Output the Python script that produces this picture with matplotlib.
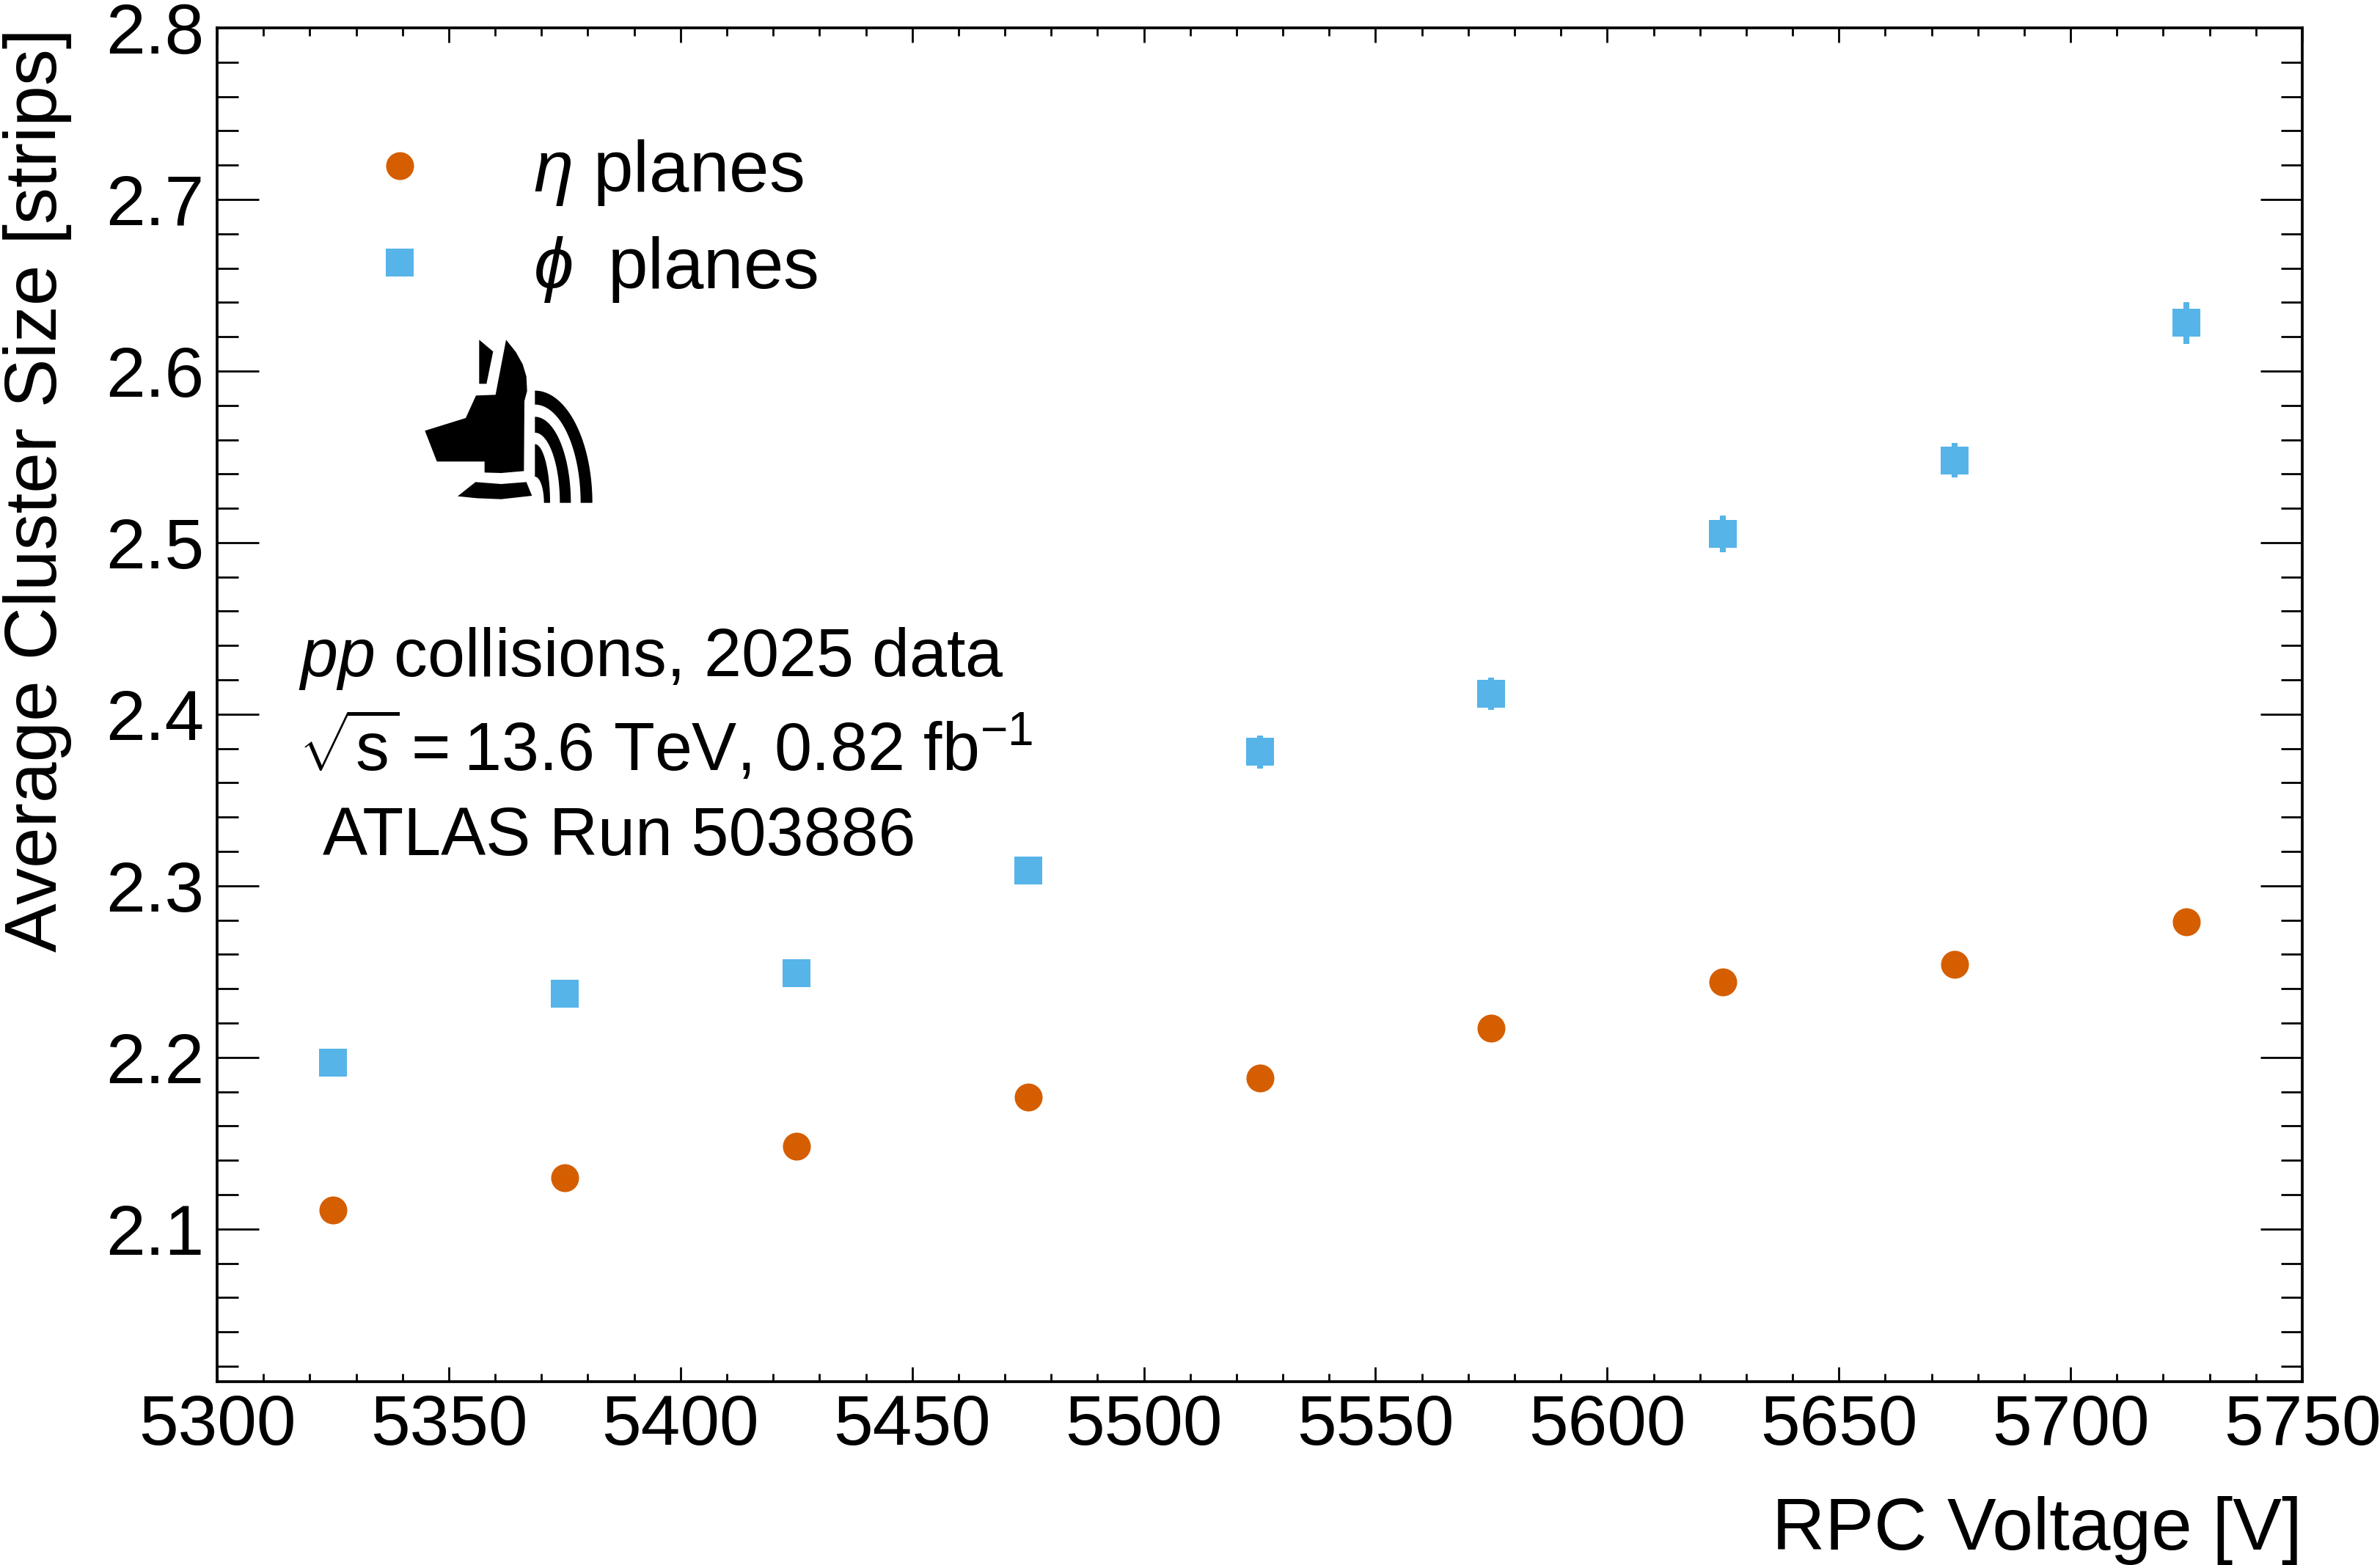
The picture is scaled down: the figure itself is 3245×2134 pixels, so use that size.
import matplotlib
matplotlib.use("Agg")
import matplotlib.pyplot as plt
import numpy as np
from matplotlib.patches import Polygon
from matplotlib.ticker import MultipleLocator

# values
voltage = [5325, 5375, 5425, 5475, 5525, 5575, 5625, 5675, 5725]
eta_size = [2.111, 2.130, 2.148, 2.177, 2.188, 2.217, 2.244, 2.254, 2.279]
eta_err = [0.003, 0.003, 0.003, 0.003, 0.003, 0.003, 0.004, 0.004, 0.004]
phi_size = [2.197, 2.237, 2.249, 2.309, 2.378, 2.412, 2.505, 2.548, 2.628]
phi_err = [0.004, 0.004, 0.004, 0.005, 0.0095, 0.0094, 0.0108, 0.0101, 0.012]

x_ticks = [5300, 5350, 5400, 5450, 5500, 5550, 5600, 5650, 5700, 5750]
y_ticks = [2.1, 2.2, 2.3, 2.4, 2.5, 2.6, 2.7, 2.8]

plt.rcParams["font.family"] = ["Liberation Sans", "DejaVu Sans"]
plt.rcParams["mathtext.fontset"] = "custom"
plt.rcParams["mathtext.rm"] = "Liberation Sans"
plt.rcParams["mathtext.it"] = "Liberation Sans:italic"
plt.rcParams["mathtext.bf"] = "Liberation Sans:bold"

ORANGE = "#D55E00"
BLUE = "#56B4E9"


def draw_logo(fig):
    # little jackal head logo, drawn in its own pixel-like frame
    lax = fig.add_axes([450 / 3245, 1 - 720 / 2134, 450 / 3245, 320 / 2134])
    lax.set_xlim(0, 1350)
    lax.set_ylim(960, 0)
    lax.axis("off")

    head = [(388, 562), (555, 510), (597, 418), (677, 415), (720, 190),
            (760, 240), (788, 290), (803, 340), (806, 400), (795, 440),
            (793, 727), (700, 735), (632, 733), (632, 688), (437, 688)]
    ear = [(610, 190), (667, 238), (640, 370), (610, 370)]
    collar = [(522, 830), (595, 772), (700, 780), (803, 772), (826, 828),
              (700, 842), (600, 838)]
    for shape in (head, ear, collar):
        lax.add_patch(Polygon(shape, closed=True, color="black", lw=0))

    x0, yb = 838, 857
    t = np.linspace(np.pi / 2, 0, 60)
    for a_out, b_out, a_in, b_in in [(235, 459, 187, 402),
                                     (147, 352, 102, 287),
                                     (62, 240, 37, 107)]:
        outer = np.column_stack([x0 + a_out * np.cos(t), yb - b_out * np.sin(t)])
        inner = np.column_stack([x0 + a_in * np.cos(t[::-1]), yb - b_in * np.sin(t[::-1])])
        lax.add_patch(Polygon(np.vstack([outer, inner]), closed=True, color="black", lw=0))


fig = plt.figure(figsize=(32.45, 21.34), dpi=100)
ax = fig.add_axes([0.09122, 0.11715, 0.87612, 0.86504])

eb_eta = ax.errorbar(voltage, eta_size, yerr=eta_err, fmt="o", color=ORANGE,
                     ms=27.4, mew=0, elinewidth=5.8, capsize=0)
eb_phi = ax.errorbar(voltage, phi_size, yerr=phi_err, fmt="s", color=BLUE,
                     ms=27.4, mew=0, elinewidth=5.8, capsize=0)

ax.set_xlim(5300, 5750)
ax.set_ylim(2.011, 2.8)
ax.set_xticks(x_ticks)
ax.set_yticks(y_ticks)
ax.set_yticklabels([f"{v:.1f}" for v in y_ticks])
ax.xaxis.set_minor_locator(MultipleLocator(10))
ax.yaxis.set_minor_locator(MultipleLocator(0.02))

ax.tick_params(which="both", direction="in", top=True, right=True,
               width=2.0, labelsize=69.5)
ax.xaxis.set_tick_params(which="major", length=14.4, pad=11.5)
ax.xaxis.set_tick_params(which="minor", length=8)
ax.yaxis.set_tick_params(which="major", length=41, pad=13)
ax.yaxis.set_tick_params(which="minor", length=21)
for sp in ax.spines.values():
    sp.set_linewidth(2.7)

ax.set_xlabel("RPC Voltage [V]", fontsize=72, loc="right")
ax.xaxis.set_label_coords(1.0, -0.0845)
ax.set_ylabel("Average Cluster Size [strips]", fontsize=72, loc="top")
ax.yaxis.set_label_coords(-0.0696, 1.0)

leg = ax.legend([eb_eta[0], eb_phi[0]],
                [r"$\eta$ planes", r"$\phi$" + "\u2009 planes"],
                loc="upper left", bbox_to_anchor=(0.0703, 0.919), frameon=False,
                fontsize=70.5, handlelength=1.0, handletextpad=1.36,
                labelspacing=0.38, borderpad=0, borderaxespad=0, numpoints=1)

ax.text(0.039, 0.5211, r"$pp$ collisions, 2025 data", transform=ax.transAxes,
        fontsize=66, va="baseline")
ax.text(0.039, 0.4512, r"$\sqrt{\mathrm{s}}$" + "\u2009=\u200913.6 TeV, 0.82 fb$^{-1}$",
        transform=ax.transAxes, fontsize=66, va="baseline")
ax.text(0.0507, 0.3889, "ATLAS Run 503886", transform=ax.transAxes,
        fontsize=66, va="baseline")

draw_logo(fig)

fig.savefig("out.png", dpi=100)
